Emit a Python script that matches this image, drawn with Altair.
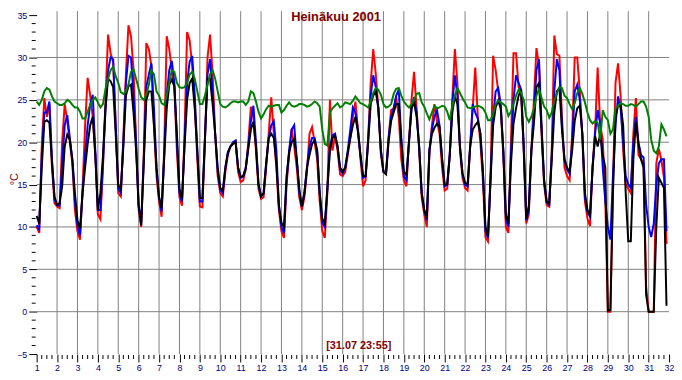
import altair as alt
import pandas as pd

# Readings every 3 hours (8 per day), 1.7. - 31.7.2001
black = [
    11.3, 10.4, 17.0, 22.4, 22.6, 22.3, 17.7, 13.6,
    12.6, 12.8, 14.8, 19.5, 20.9, 20.3, 18.0, 14.0,
    10.8, 9.8, 14.0, 17.0, 19.8, 22.0, 23.0, 18.5,
    12.0, 14.0, 18.4, 24.0, 27.5, 27.2, 26.5, 21.0,
    15.0, 14.4, 19.5, 25.5, 26.6, 26.8, 23.5, 19.0,
    12.5, 10.2, 17.5, 25.0, 26.0, 26.0, 22.0, 17.0,
    13.5, 12.2, 18.0, 24.0, 26.8, 27.4, 26.6, 21.0,
    14.5, 13.3, 19.5, 25.0, 27.0, 27.5, 24.0, 19.0,
    13.4, 13.4, 20.5, 27.5, 27.5, 24.5, 21.0, 17.0,
    14.6, 14.3, 17.0, 18.8, 19.5, 19.8, 20.1, 17.0,
    15.9, 16.0, 16.9, 19.2, 21.5, 22.4, 19.5, 15.0,
    13.6, 14.0, 17.5, 20.5, 21.0, 20.5, 17.5, 12.5,
    10.5, 10.0, 16.0, 18.8, 20.0, 20.4, 18.0, 14.5,
    12.4, 14.0, 17.0, 18.5, 19.8, 20.2, 19.0, 14.0,
    11.0, 10.4, 14.5, 19.0, 20.5, 20.8, 19.5, 17.0,
    16.5, 17.0, 18.8, 20.5, 22.0, 23.0, 21.2, 18.5,
    16.0, 16.0, 20.0, 24.5, 25.5, 26.0, 24.0, 19.0,
    16.5, 16.2, 20.0, 22.5, 23.5, 24.5, 24.5, 20.0,
    16.5, 16.1, 20.0, 24.0, 24.7, 23.0, 19.5, 14.0,
    12.0, 11.0, 19.0, 21.0, 21.7, 22.2, 21.8, 18.0,
    15.0, 15.0, 18.5, 23.5, 25.4, 24.5, 19.5, 16.3,
    15.2, 15.0, 19.5, 21.5, 22.0, 22.4, 21.0, 16.5,
    10.0, 8.9, 15.5, 22.0, 24.1, 24.9, 24.0, 19.0,
    11.5, 10.4, 17.5, 22.2, 24.0, 25.5, 26.2, 19.5,
    11.0, 12.5, 19.0, 22.2, 26.5, 27.0, 21.5, 15.5,
    13.0, 12.7, 18.0, 23.5, 26.0, 26.4, 21.5, 18.0,
    17.0, 16.5, 19.0, 22.5, 24.0, 24.3, 21.0, 14.0,
    12.0, 11.4, 17.0, 20.7, 19.5, 21.0, 18.5, 17.0,
    0.1, 0.2, 14.0, 23.0, 24.3, 24.4, 22.0, 14.0,
    8.3, 8.3, 18.0, 22.4, 19.8, 18.0, 17.0, 2.0,
    0.0, 0.0, 0.0, 10.0, 15.8, 15.2, 14.6, 0.7,
]
red = [
    10.0, 9.3, 19.5, 25.2, 23.0, 24.5, 17.0, 12.8,
    12.4, 12.2, 20.0, 24.5, 22.5, 20.0, 17.5, 12.0,
    9.5, 8.5, 14.5, 22.0, 27.6, 25.5, 23.0, 18.5,
    11.5, 10.9, 17.0, 25.0, 32.7, 30.5, 29.5, 22.0,
    14.0, 13.6, 20.5, 28.0, 33.8, 32.5, 28.5, 20.0,
    12.0, 10.0, 18.5, 31.7, 31.0, 29.0, 22.0, 16.0,
    13.0, 11.2, 19.0, 32.5, 31.0, 28.5, 26.5, 19.0,
    13.5, 12.5, 21.0, 33.0, 32.0, 29.0, 24.5, 18.0,
    12.4, 12.3, 20.0, 30.0, 32.7, 28.0, 21.0, 16.0,
    14.0, 13.6, 16.5, 18.5, 19.5, 19.8, 20.0, 16.5,
    15.3, 15.5, 16.8, 20.0, 24.2, 23.0, 19.0, 14.5,
    13.3, 13.5, 17.0, 21.0, 25.3, 21.0, 17.0, 12.0,
    9.5, 8.7, 15.0, 18.5, 21.6, 19.5, 17.0, 13.5,
    12.0, 13.5, 16.5, 21.0, 21.8, 20.0, 18.0, 13.0,
    9.5, 8.7, 14.0, 25.0, 19.0, 20.7, 19.0, 16.2,
    16.0, 16.5, 18.5, 20.5, 23.0, 24.8, 21.5, 18.0,
    14.8, 15.5, 20.5, 27.0, 31.0, 28.0, 24.0, 18.5,
    16.5, 16.3, 20.5, 23.8, 24.0, 25.3, 23.0, 18.0,
    15.5, 14.8, 20.0, 25.0, 28.3, 24.0, 19.0, 13.5,
    11.5, 10.0, 18.5, 22.0, 24.5, 22.5, 21.0, 17.0,
    14.3, 14.5, 18.5, 25.0, 31.0, 27.0, 19.0, 15.8,
    14.6, 14.3, 19.5, 24.0, 28.8, 23.0, 20.0, 15.5,
    8.8, 8.3, 16.0, 30.2, 28.5, 26.0, 24.0, 18.5,
    10.0, 9.3, 20.0, 30.5, 30.5, 26.5, 25.5, 19.0,
    10.4, 11.5, 19.0, 25.0, 31.1, 29.0, 21.0, 15.0,
    12.6, 12.4, 19.0, 32.6, 30.4, 30.2, 23.0, 17.0,
    16.0, 15.5, 21.0, 30.0, 30.0, 26.0, 20.5, 13.0,
    11.0, 10.1, 17.0, 21.5, 28.8, 22.0, 20.3, 13.0,
    0.0, 0.0, 15.0, 27.0, 29.3, 25.5, 19.0, 15.0,
    14.5, 14.0, 21.0, 25.2, 18.5, 18.0, 17.5, 3.0,
    0.0, 0.0, 0.0, 17.5, 19.2, 17.9, 15.8, 8.0,
]
blue = [
    10.2, 9.7, 18.5, 23.5, 23.5, 24.8, 18.0, 13.2,
    12.6, 12.5, 17.5, 22.0, 23.2, 20.5, 17.8, 13.0,
    10.2, 9.0, 14.0, 18.5, 22.0, 24.5, 25.6, 19.0,
    12.0, 12.0, 17.5, 24.0, 28.5, 30.0, 29.8, 22.0,
    14.5, 14.0, 20.0, 27.0, 30.2, 30.0, 25.5, 20.0,
    12.5, 10.5, 18.0, 26.5, 28.0, 29.3, 24.0, 17.0,
    13.5, 11.8, 18.5, 25.5, 28.5, 29.6, 27.0, 20.0,
    14.0, 13.0, 20.0, 27.0, 29.5, 30.2, 25.5, 19.0,
    13.0, 13.0, 20.5, 28.0, 29.8, 26.0, 21.0, 16.5,
    14.4, 14.0, 17.0, 18.8, 19.5, 20.0, 20.2, 17.0,
    15.8, 16.0, 17.0, 19.5, 22.5, 24.3, 20.0, 15.0,
    13.6, 14.0, 17.5, 20.5, 22.0, 22.5, 19.0, 12.5,
    10.0, 9.3, 15.5, 19.0, 21.5, 22.0, 18.0, 14.0,
    12.4, 14.0, 17.0, 19.5, 20.5, 20.5, 19.0, 14.0,
    10.5, 10.0, 14.5, 19.5, 20.8, 21.0, 19.5, 16.8,
    16.3, 17.0, 19.0, 21.5, 24.1, 23.5, 21.5, 18.3,
    15.8, 16.0, 20.3, 25.5, 27.9, 26.5, 24.0, 19.0,
    16.5, 16.3, 20.5, 23.0, 24.0, 25.5, 26.2, 20.5,
    16.0, 15.5, 20.0, 24.0, 25.3, 23.5, 19.5, 14.0,
    12.0, 10.8, 19.0, 21.5, 23.0, 23.8, 22.0, 18.0,
    14.8, 15.0, 18.5, 24.5, 27.9, 25.5, 19.5, 16.2,
    15.0, 14.8, 19.5, 24.5, 23.5, 22.8, 21.0, 16.5,
    9.5, 8.7, 16.0, 23.0, 26.0, 26.4, 24.5, 19.0,
    11.0, 10.0, 18.5, 25.0, 27.9, 27.0, 26.2, 19.5,
    10.8, 12.0, 19.0, 23.5, 28.5, 29.8, 22.0, 15.5,
    12.9, 12.6, 18.5, 26.0, 29.8, 28.5, 22.0, 17.8,
    16.8, 16.3, 20.0, 26.0, 26.8, 25.0, 21.0, 13.5,
    11.8, 11.2, 17.0, 21.0, 23.8, 22.2, 17.0, 13.0,
    10.0, 8.5, 16.0, 22.0, 25.4, 24.0, 20.0, 16.0,
    15.0, 14.6, 20.0, 23.0, 20.0, 18.5, 18.2, 12.7,
    10.0, 8.8, 10.4, 15.0, 17.5, 18.0, 18.0, 9.5,
]
green = [
    24.8, 24.4, 25.0, 26.0, 26.4, 26.2, 25.4, 24.8,
    24.6, 24.4, 24.4, 24.6, 25.0, 24.8, 24.4, 24.1,
    24.1, 23.6, 22.8, 22.8, 23.6, 24.4, 25.0, 25.3,
    24.7, 24.1, 24.5, 26.3, 27.5, 28.5, 28.9, 27.8,
    27.0, 25.9, 25.7, 26.0, 26.8, 28.3, 28.6, 27.5,
    26.3, 25.3, 25.0, 25.6, 26.8, 28.5, 28.0, 26.0,
    25.5, 24.6, 24.4, 25.5, 27.0, 28.5, 28.3, 27.0,
    26.5, 26.4, 26.5, 27.0, 28.0, 28.3, 27.5, 26.0,
    24.5, 24.5, 25.5, 26.8, 28.0, 28.5, 27.5, 26.0,
    24.5, 24.2, 24.1, 24.3, 24.6, 24.8, 24.8, 24.7,
    24.8, 24.8, 24.4, 24.8, 26.0, 25.8, 24.8, 23.6,
    22.8, 23.3, 23.9, 24.3, 24.2, 24.3, 24.4, 24.4,
    23.5, 23.8, 24.3, 24.7, 24.3, 24.2, 24.3, 24.5,
    24.5, 24.4, 24.2, 24.3, 24.5, 24.8, 24.6, 24.2,
    21.5, 19.8, 19.6, 23.5, 24.0, 24.3, 24.6, 24.1,
    24.3, 24.7, 24.6, 24.5, 24.9, 25.4, 25.0, 24.6,
    24.5, 24.3, 24.1, 24.8, 25.8, 26.4, 26.2, 25.6,
    24.5, 24.1, 24.2, 24.5, 25.7, 26.3, 26.4, 25.5,
    24.8, 24.4, 24.1, 24.5, 25.0, 25.7, 25.8, 24.7,
    24.2, 23.4, 22.7, 23.5, 24.3, 24.0, 24.1, 24.3,
    24.2, 23.6, 22.6, 24.3, 25.5, 26.4, 25.8, 25.2,
    24.7, 24.1, 24.0, 24.1, 24.2, 24.3, 24.2, 24.0,
    23.5, 22.6, 22.6, 23.3, 24.5, 24.9, 24.7, 24.5,
    24.2, 23.1, 23.6, 24.5, 25.5, 26.2, 25.8, 25.0,
    23.0, 22.4, 23.0, 24.0, 25.5, 26.2, 25.2, 24.2,
    23.8, 22.9, 23.5, 24.9, 25.8, 26.5, 26.4, 25.5,
    25.2, 24.5, 23.9, 24.6, 25.8, 26.4, 25.7, 24.7,
    23.5, 22.6, 22.2, 22.5, 22.3, 20.3, 23.8, 23.0,
    22.6, 21.0, 21.5, 24.0, 24.3, 24.6, 24.5, 24.3,
    24.3, 24.5, 24.4, 24.2, 24.5, 24.8, 24.8, 24.2,
    23.0, 20.3, 19.0, 18.7, 19.5, 22.1, 21.5, 20.7,
]

day_ticks = list(range(1, 33))
y_ticks = [-5, 0, 5, 10, 15, 20, 25, 30, 35]
grid_days = list(range(2, 32))
grid_temps = [0, 5, 10, 15, 20, 25, 30]
minor_days = [d + q / 4 for d in range(1, 32) for q in (1, 2, 3)]
minor_temps = [v for v in range(-4, 35) if v % 5 != 0]
title_text = "Heinäkuu 2001"
stamp_text = "[31.07 23:55]"
unit_text = "°C"

W, H = 640, 343
NAVY = "#000080"
DARKRED = "#800000"
GRID = "#808080"

times = [1 + i / 8 for i in range(len(black))]

xscale = alt.Scale(domain=[1, 32], nice=False, zero=False)
yscale = alt.Scale(domain=[-5, 35], nice=False, zero=False)
xaxis = alt.Axis(values=day_ticks, format="d", title=None, domain=False, grid=False,
                 tickSize=8, tickColor="black", tickWidth=1, labelColor=NAVY,
                 labelFont="Liberation Sans", labelFontSize=9, labelPadding=2,
                 labelFlush=False, labelOverlap=False)
yaxis = alt.Axis(values=y_ticks, format="d", title=None, domain=False, grid=False,
                 tickSize=8, tickColor="black", tickWidth=1, labelColor=NAVY,
                 labelFont="Liberation Sans", labelFontSize=9, labelPadding=2,
                 labelFlush=False, labelOverlap=False)

X = lambda f: alt.X(f, type="quantitative", scale=xscale, axis=xaxis)
Y = lambda f: alt.Y(f, type="quantitative", scale=yscale, axis=yaxis)

vgrid = alt.Chart(pd.DataFrame({"d": grid_days})).mark_rule(color=GRID, strokeWidth=1).encode(
    x=X("d"), y=alt.value(-4), y2=alt.value(H))
hgrid = alt.Chart(pd.DataFrame({"v": grid_temps})).mark_rule(color=GRID, strokeWidth=1).encode(
    y=Y("v"), x=alt.value(0), x2=alt.value(W))
xminor = alt.Chart(pd.DataFrame({"d": minor_days})).mark_rule(color="black", strokeWidth=1).encode(
    x=X("d"), y=alt.value(H + 1), y2=alt.value(H + 5))
yminor = alt.Chart(pd.DataFrame({"v": minor_temps})).mark_rule(color="black", strokeWidth=1).encode(
    y=Y("v"), x=alt.value(-5), x2=alt.value(-1))


def series(vals, color):
    df = pd.DataFrame({"t": times, "v": vals})
    return alt.Chart(df).mark_line(color=color, strokeWidth=2, interpolate="linear").encode(
        x=X("t"), y=Y("v"))


title = alt.Chart(pd.DataFrame({"s": [title_text]})).mark_text(
    font="Liberation Sans", fontSize=13, fontWeight="bold", color=DARKRED,
    align="center", baseline="alphabetic").encode(
    x=alt.value(303), y=alt.value(6), text="s:N")
stamp = alt.Chart(pd.DataFrame({"s": [stamp_text]})).mark_text(
    font="Liberation Sans", fontSize=11, fontWeight="bold", color=DARKRED,
    align="center", baseline="alphabetic").encode(
    x=alt.value(326), y=alt.value(338), text="s:N")
unit = alt.Chart(pd.DataFrame({"s": [unit_text]})).mark_text(
    font="Liberation Sans", fontSize=11, color=DARKRED, angle=270,
    align="center", baseline="middle").encode(
    x=alt.value(-22), y=alt.value(166), text="s:N")

chart = alt.layer(
    vgrid, hgrid, xminor, yminor,
    series(red, "#ff0000"), series(blue, "#0000ff"), series(black, "#000000"),
    series(green, "#008000"),
    title, stamp, unit,
).properties(
    width=W, height=H,
    padding={"left": 29, "top": 5, "right": 5, "bottom": 18},
    autosize=alt.AutoSizeParams(type="none"),
    background="white",
).configure_view(strokeWidth=0)

chart.save("out.html", embed_options={"renderer": "svg", "actions": False})
